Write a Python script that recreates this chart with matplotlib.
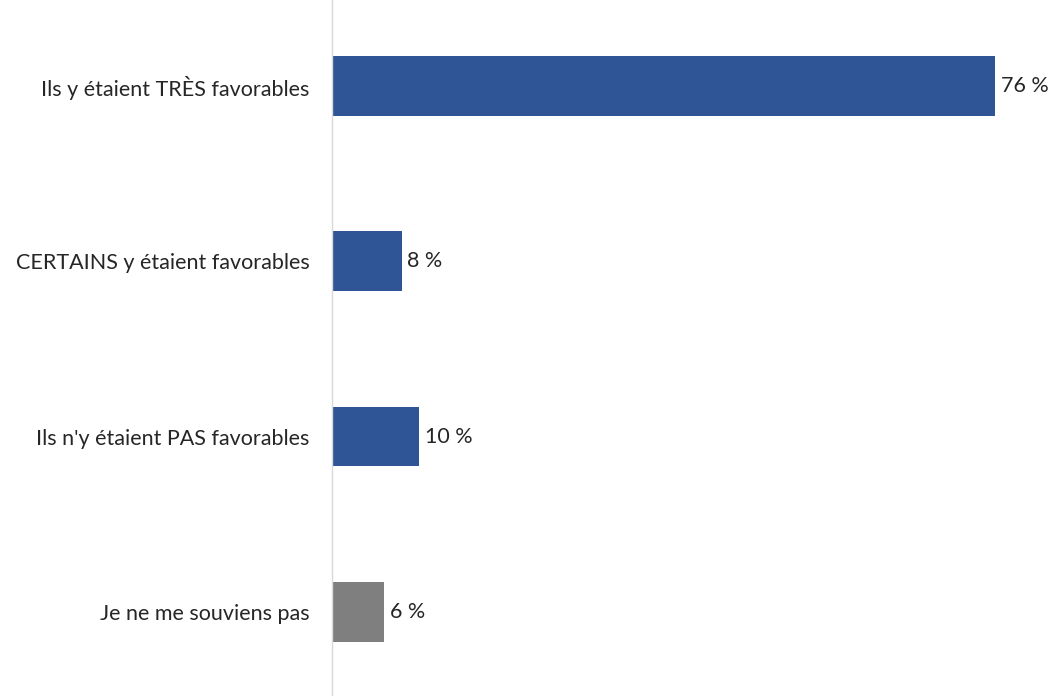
import matplotlib
matplotlib.use("Agg")
import matplotlib.pyplot as plt

categories = [
    "Ils y étaient TRÈS favorables",
    "CERTAINS y étaient favorables",
    "Ils n'y étaient PAS favorables",
    "Je ne me souviens pas",
]
values = [76, 8, 10, 6]
colors = ["#2F5597", "#2F5597", "#2F5597", "#7F7F7F"]

plt.rcParams["font.family"] = ["Lato", "DejaVu Sans"]

fig = plt.figure(figsize=(10.52, 6.96), dpi=100)
ax = fig.add_axes([332 / 1052, 0, 720 / 1052, 1])

y = list(range(len(categories)))
ax.barh(y, values, height=0.34, color=colors)
ax.set_ylim(len(categories) - 0.52, -0.49)
ax.set_xlim(0, 82.5)

for yi, v in zip(y, values):
    ax.annotate(f"{v} %", xy=(v, yi), xytext=(4, 0), textcoords="offset points",
                va="center", ha="left", fontsize=15.5, color="#262626")

ax.set_yticks(y)
ax.set_yticklabels(categories, fontsize=15.5, color="#262626")
ax.tick_params(axis="y", length=0, pad=16)
ax.set_xticks([])
for side in ["top", "right", "bottom"]:
    ax.spines[side].set_visible(False)
ax.spines["left"].set_color("#D9D9D9")
ax.spines["left"].set_linewidth(1)

fig.savefig("out.png", dpi=100)
